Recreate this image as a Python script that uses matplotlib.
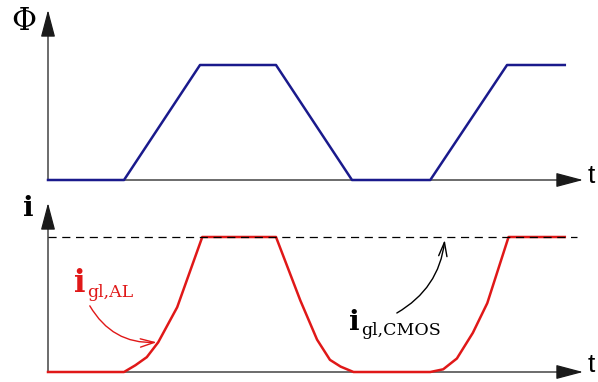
import matplotlib
matplotlib.use("Agg")
import matplotlib.pyplot as plt

# flux waveform (top)
t_phi = [0, 1.0, 2.0, 3.0, 4.0, 5.03, 6.04, 6.8]
phi = [0, 0, 1, 1, 0, 0, 1, 1]

# gate leakage current (bottom), normalised to CMOS level
t_i = [0, 1.0, 1.15, 1.3, 1.45, 1.7, 2.03, 3.0, 3.32, 3.54, 3.71, 3.85, 4.02,
       5.03, 5.2, 5.38, 5.59, 5.78, 6.06, 6.8]
i_al = [0, 0, 0.05, 0.11, 0.22, 0.48, 1, 1, 0.53, 0.24, 0.09, 0.04, 0,
        0, 0.02, 0.10, 0.29, 0.51, 1, 1]
i_cmos = 1.0
t_cmos = [0, 6.96]

BLUE = "#1a1a8c"
RED = "#e01818"
SERIF = "DejaVu Serif"

W, H = 598, 382
fig = plt.figure(figsize=(W / 100, H / 100), dpi=100)
fig.patch.set_facecolor("white")

xmax = 535 / 76
ax1 = fig.add_axes([48 / W, 202 / H, 535 / W, 170 / H])
ax2 = fig.add_axes([48 / W, 10 / H, 535 / W, 169 / H])
ax1.set_xlim(0, xmax); ax1.set_ylim(0, 170 / 115)
ax2.set_xlim(0, xmax); ax2.set_ylim(0, 169 / 135)

def draw_axes(ax):
    ax.axis("off")
    x0, x1 = ax.get_xlim()
    y0, y1 = ax.get_ylim()
    arr = dict(arrowstyle="-|>,head_length=1.7,head_width=0.45", color="#1a1a1a",
               lw=0.9, shrinkA=0, shrinkB=0, mutation_scale=10)
    ax.annotate("", xy=(x1, 0), xytext=(0, 0), arrowprops=arr, annotation_clip=False)
    ax.annotate("", xy=(0, y1), xytext=(0, 0), arrowprops=arr, annotation_clip=False)

draw_axes(ax1)
draw_axes(ax2)

ax1.plot(t_phi, phi, color=BLUE, lw=1.8, clip_on=False, zorder=3)
ax2.plot(t_i, i_al, color=RED, lw=1.8, clip_on=False, zorder=3)
ax2.plot(t_cmos, [i_cmos, i_cmos], color="black", lw=0.9, ls=(0, (6.5, 4.5)), clip_on=False, zorder=4)

# axis labels
ax1.text(-0.32, 1.38, "Φ", fontsize=22, family=SERIF, ha="center", va="center")
ax1.text(7.1, 0.035, "t", fontsize=19, family="Liberation Sans", ha="left", va="center")
ax2.text(-0.26, 1.21, "i", fontsize=20, family=SERIF, weight="bold", ha="center", va="center")
ax2.text(7.1, 0.05, "t", fontsize=19, family="Liberation Sans", ha="left", va="center")

# i_gl,AL label
ax2.text(0.34, 0.59, "i", fontsize=22, family=SERIF, weight="bold", color=RED, ha="left", va="baseline")
ax2.text(0.52, 0.555, "gl,AL", fontsize=12.5, family=SERIF, color=RED, ha="left", va="baseline")
ax2.annotate("", xy=(1.43, 0.22), xytext=(0.55, 0.49),
             arrowprops=dict(arrowstyle="->,head_length=1.0,head_width=0.3", color=RED, lw=1.0,
                             connectionstyle="arc3,rad=0.3", shrinkA=0, shrinkB=0))

# i_gl,CMOS label
ax2.text(3.96, 0.31, "i", fontsize=20, family=SERIF, weight="bold", color="black", ha="left", va="baseline")
ax2.text(4.12, 0.274, "gl,CMOS", fontsize=12.5, family=SERIF, color="black", ha="left", va="baseline")
ax2.annotate("", xy=(5.22, 0.978), xytext=(4.59, 0.437),
             arrowprops=dict(arrowstyle="->,head_length=1.0,head_width=0.3", color="black", lw=1.0,
                             connectionstyle="arc3,rad=0.25", shrinkA=0, shrinkB=0))

fig.savefig("out.png", dpi=100, facecolor="white")
